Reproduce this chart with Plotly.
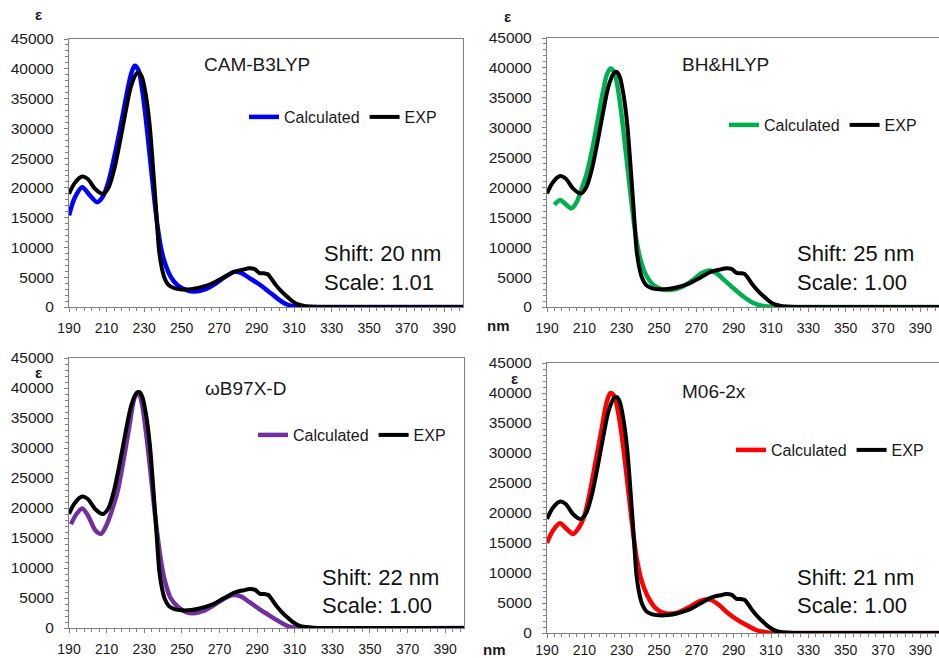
import plotly.graph_objects as go

# ---------------- data ----------------
wl_exp = [190, 193, 197, 200, 204, 208, 211, 214, 217, 220, 223, 226, 227.5, 229, 231, 233, 235, 236.5,
          238, 239.5, 241, 243, 246, 250, 255, 260, 266, 272, 278, 283, 286, 289, 291.5, 294, 296, 298,
          300, 303, 306, 309, 312, 316, 320, 330, 400]
eps_exp = [19000, 20800, 21900, 21500, 19800, 19000, 20000, 23000, 27500, 32500, 37000, 39200, 39300, 38500,
           35500, 30500, 22500, 16000, 9500, 6500, 4800, 3700, 3150, 2950, 3000, 3300, 3900, 4900, 5900, 6300,
           6500, 6350, 5700, 5650, 5500, 4700, 3800, 2700, 1800, 1000, 450, 150, 50, 10, 0]

wl_cam = [190, 193, 197, 201, 205, 208, 211, 214, 217, 220, 223, 225, 227, 229, 231, 233, 235, 237, 239, 241,
          244, 248, 253, 257, 262, 268, 273, 278, 282, 286, 291, 296, 301, 305, 309, 313, 320, 400]
eps_cam = [15400, 18300, 20100, 18800, 17600, 18500, 21000, 25000, 29500, 34500, 39000, 40500, 39800, 36500,
           31500, 25500, 19500, 14000, 10000, 7500, 5200, 3600, 2800, 2600, 2900, 3900, 5000, 5900, 5700, 4900,
           3900, 2700, 1450, 600, 150, 20, 0, 0]

wl_bh = [194, 197, 200, 203, 206, 208, 211, 214, 217, 220, 222, 224, 226, 228, 230, 232, 234, 236, 238, 240,
         243, 247, 252, 256, 262, 268, 273, 277, 281, 285, 290, 295, 300, 305, 310, 320, 400]
eps_bh = [17100, 17900, 17200, 16500, 17600, 19300, 22000, 26000, 31000, 36000, 38800, 39900, 39300, 36500,
          32000, 26500, 21000, 15500, 11000, 8000, 5400, 3700, 2950, 2850, 3300, 4500, 5700, 6100, 5600, 4500,
          3100, 1800, 750, 200, 30, 0, 0]

wl_wb = [191, 194, 197, 200, 204, 207, 210, 213, 216, 219, 222, 225, 227, 229, 231, 233, 235, 237, 239, 241,
         244, 248, 252, 256, 261, 267, 272, 277, 281, 286, 291, 296, 300, 305, 309, 315, 400]
eps_wb = [17300, 19000, 19900, 18800, 16300, 15700, 17200, 19800, 23000, 28000, 33500, 38500, 39200, 37000,
          32500, 27000, 21000, 15500, 11000, 7800, 5000, 3500, 2700, 2450, 2800, 3800, 4800, 5500, 5300, 4300,
          3200, 2200, 1400, 500, 100, 0, 0]

wl_m06 = [190, 193, 197, 200, 204, 207, 210, 213, 216, 219, 222, 224, 226, 228, 230, 232, 234, 236, 238, 240,
          242, 245, 248, 252, 256, 260, 266, 271, 275, 278, 282, 287, 292, 297, 302, 307, 312, 320, 400]
eps_m06 = [15000, 17000, 18300, 17500, 16500, 17500, 19500, 23500, 28500, 33500, 38500, 40000, 39500, 37000,
           33000, 28000, 22500, 17000, 12500, 9500, 7500, 5500, 4200, 3400, 3200, 3400, 4300, 5200, 5600, 5500,
           4700, 3300, 2200, 1300, 500, 150, 20, 0, 0]

functionals = ["CAM-B3LYP", "BH&HLYP", "ωB97X-D", "M06-2x"]
shift_labels = ["Shift: 20 nm", "Shift: 25 nm", "Shift: 22 nm", "Shift: 21 nm"]
scale_labels = ["Scale: 1.01", "Scale: 1.00", "Scale: 1.00", "Scale: 1.00"]
calc_wl = [wl_cam, wl_bh, wl_wb, wl_m06]
calc_eps = [eps_cam, eps_bh, eps_wb, eps_m06]
calc_colors = ["#0000FF", "#00B050", "#7030A0", "#FF0000"]

x_tickvals = list(range(190, 400, 20))
y_tickvals = list(range(0, 45001, 5000))

# ---------------- layout helpers ----------------
W, H = 939, 658
def px(x):
    return x / W
def py(y):
    return 1 - y / H

FONT = "Liberation Sans, Arial, sans-serif"

# pixel boxes of the four plot areas: (left, right, top, bottom)
boxes = [(69, 463, 39, 307), (547, 939, 38, 307), (69, 464, 358, 628), (547, 939, 363, 633)]
x_standoff = [4, 4, 4, 0]
legend_pos = [(244, 117), (724, 125), (253, 435), (731, 450)]
name_pos = [(202, 64), (680, 64), (203, 388), (680, 391)]
text_pos = [(322, 254, 282), (795, 254, 282), (320, 577, 605), (795, 577, 605)]
eps_pos = [(38, 14), (507, 16), (38, 372), (514, 378)]
nm_pos = [(498, 325), (494, 649)]

fig = go.Figure()
layout = dict(
    width=W, height=H,
    margin=dict(l=0, r=0, t=0, b=0, autoexpand=False),
    paper_bgcolor="white", plot_bgcolor="white",
    font=dict(family=FONT, color="#1a1a1a"),
    annotations=[],
)

for i in range(4):
    n = i + 1
    sfx = "" if n == 1 else str(n)
    xa, ya = "x" + sfx, "y" + sfx
    leg = "legend" + sfx
    fig.add_trace(go.Scatter(x=calc_wl[i], y=calc_eps[i], mode="lines", name="Calculated",
                             line=dict(color=calc_colors[i], width=4.5, shape="spline", smoothing=0.8),
                             xaxis=xa, yaxis=ya, legend=leg))
    fig.add_trace(go.Scatter(x=wl_exp, y=eps_exp, mode="lines", name="EXP",
                             line=dict(color="black", width=4, shape="spline", smoothing=0.8),
                             xaxis=xa, yaxis=ya, legend=leg))
    l, r, t, b = boxes[i]
    layout["xaxis" + sfx] = dict(
        domain=[px(l), px(r)], anchor=ya, range=[190, 400], automargin=False,
        tickmode="array", tickvals=x_tickvals, ticks="outside", ticklen=4, tickwidth=1,
        tickcolor="#808080", showline=True, linecolor="#808080", linewidth=1.3, mirror=True,
        showgrid=False, zeroline=False, ticklabelstandoff=x_standoff[i],
        tickfont=dict(size=14, family=FONT, color="#1a1a1a"),
        minor=dict(tick0=190, dtick=4, ticks="outside", ticklen=3, tickcolor="#808080"),
    )
    layout["yaxis" + sfx] = dict(
        domain=[py(b), py(t)], anchor=xa, range=[0, 45000], automargin=False,
        tickmode="array", tickvals=y_tickvals, tickformat="d", ticks="outside", ticklen=4,
        tickcolor="#808080", showline=True, linecolor="#808080", linewidth=1.3, mirror=True,
        showgrid=False, zeroline=False, ticklabelstandoff=7,
        tickfont=dict(size=15.5, family=FONT, color="#1a1a1a"),
        minor=dict(tick0=0, dtick=1000, ticks="outside", ticklen=3, tickcolor="#808080"),
    )
    lx, ly = legend_pos[i]
    layout[leg] = dict(
        x=px(lx), y=py(ly), xanchor="left", yanchor="middle", orientation="h",
        font=dict(size=16, family=FONT, color="#1a1a1a"), bgcolor="rgba(0,0,0,0)",
        tracegroupgap=0, itemwidth=30,
    )
    nx, ny = name_pos[i]
    layout["annotations"].append(dict(
        text=functionals[i], x=px(nx), y=py(ny), xref="paper", yref="paper",
        xanchor="left", yanchor="middle", showarrow=False,
        font=dict(size=19, family=FONT, color="#1a1a1a")))
    tx, ty1, ty2 = text_pos[i]
    layout["annotations"].append(dict(
        text=shift_labels[i], x=px(tx), y=py(ty1), xref="paper", yref="paper",
        xanchor="left", yanchor="middle", showarrow=False,
        font=dict(size=22, family=FONT, color="#111111")))
    layout["annotations"].append(dict(
        text=scale_labels[i], x=px(tx), y=py(ty2), xref="paper", yref="paper",
        xanchor="left", yanchor="middle", showarrow=False,
        font=dict(size=22, family=FONT, color="#111111")))
    ex, ey = eps_pos[i]
    layout["annotations"].append(dict(
        text="<b>ε</b>", x=px(ex), y=py(ey), xref="paper", yref="paper",
        xanchor="center", yanchor="middle", showarrow=False,
        font=dict(size=15, family=FONT, color="#1a1a1a")))

for (nx_, ny_) in nm_pos:
    layout["annotations"].append(dict(
        text="<b>nm</b>", x=px(nx_), y=py(ny_), xref="paper", yref="paper",
        xanchor="center", yanchor="middle", showarrow=False,
        font=dict(size=15, family=FONT, color="#1a1a1a")))

fig.update_layout(**layout)
fig.write_html("out.html",
               config={"displayModeBar": False},
               post_script="document.body.style.margin='0';document.body.style.padding='0';"
                           "document.body.style.overflow='hidden';")
